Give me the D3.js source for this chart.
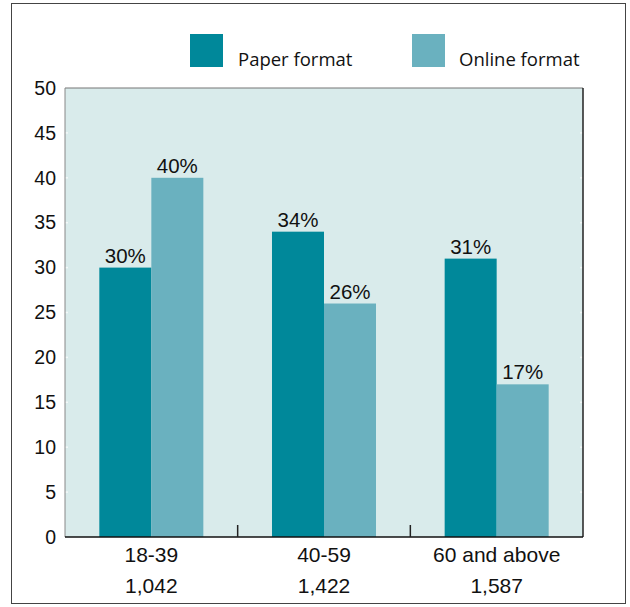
<!DOCTYPE html>
<html>
<head>
<meta charset="utf-8">
<script src="https://cdn.jsdelivr.net/npm/d3@7"></script>
<style>
  html, body { margin: 0; padding: 0; background: #fff; }
  svg { display: block; }
</style>
</head>
<body>
<svg id="chart" width="630" height="607"></svg>
<script>
// Age groups and respondent counts
const categories = ["18-39", "40-59", "60 and above"];
const counts = ["1,042", "1,422", "1,587"];
const series = ["Paper format", "Online format"];
// Share of respondents (%) preferring each format
const paperValues = [30, 34, 31];
const onlineValues = [40, 26, 17];
const yTicks = [0, 5, 10, 15, 20, 25, 30, 35, 40, 45, 50];

const colors = { "Paper format": "#00889a", "Online format": "#6ab1bf" };
const labelFont = "'Liberation Sans', Arial, sans-serif";

const svg = d3.select("#chart");
const plot = { left: 65, right: 583, top: 88, bottom: 537 };

// Outer frame
svg.append("rect")
  .attr("x", 11.5).attr("y", 3.5).attr("width", 614).attr("height", 600)
  .attr("fill", "#fff").attr("stroke", "#444").attr("stroke-width", 1);

const x0 = d3.scaleBand().domain(categories).range([plot.left, plot.right]).padding(0);
const x1 = d3.scaleBand().domain(series).range([0, x0.bandwidth()]).paddingInner(0).paddingOuter(0.66);
const y = d3.scaleLinear().domain([0, 50]).range([plot.bottom, plot.top]);

// Plot background
svg.append("rect")
  .attr("x", plot.left).attr("y", plot.top)
  .attr("width", plot.right - plot.left).attr("height", plot.bottom - plot.top)
  .attr("fill", "#d9ebeb");

// Light tick marks on both inner edges
const tickG = svg.append("g");
yTicks.filter(t => t > 0 && t < 50).forEach(t => {
  tickG.append("line").attr("x1", plot.left).attr("x2", plot.left + 3)
    .attr("y1", y(t)).attr("y2", y(t)).attr("stroke", "#f2f8f8").attr("stroke-width", 1.5);
  tickG.append("line").attr("x1", plot.right - 3).attr("x2", plot.right)
    .attr("y1", y(t)).attr("y2", y(t)).attr("stroke", "#f2f8f8").attr("stroke-width", 1.5);
});

// Bars
const rows = categories.map((c, i) => ({
  cat: c,
  vals: [
    { key: "Paper format", value: paperValues[i] },
    { key: "Online format", value: onlineValues[i] }
  ]
}));

const groups = svg.append("g").selectAll("g").data(rows).join("g")
  .attr("transform", d => `translate(${x0(d.cat)},0)`);

groups.selectAll("rect").data(d => d.vals).join("rect")
  .attr("x", d => x1(d.key))
  .attr("y", d => y(d.value))
  .attr("width", x1.bandwidth())
  .attr("height", d => y(0) - y(d.value))
  .attr("fill", d => colors[d.key]);

groups.selectAll("text").data(d => d.vals).join("text")
  .attr("x", d => x1(d.key) + x1.bandwidth() / 2)
  .attr("y", d => y(d.value) - 5)
  .attr("text-anchor", "middle")
  .attr("font-family", labelFont)
  .attr("font-size", 20.5)
  .attr("fill", "#111")
  .text(d => d.value + "%");

// Plot border: grey top/left, dark right/bottom
svg.append("line").attr("x1", plot.left).attr("x2", plot.right).attr("y1", plot.top).attr("y2", plot.top)
  .attr("stroke", "#777").attr("stroke-width", 1.2);
svg.append("line").attr("x1", plot.left).attr("x2", plot.left).attr("y1", plot.top).attr("y2", plot.bottom)
  .attr("stroke", "#888").attr("stroke-width", 1);
svg.append("line").attr("x1", plot.right).attr("x2", plot.right).attr("y1", plot.top).attr("y2", plot.bottom)
  .attr("stroke", "#222").attr("stroke-width", 1.5);
svg.append("line").attr("x1", plot.left).attr("x2", plot.right).attr("y1", plot.bottom).attr("y2", plot.bottom)
  .attr("stroke", "#111").attr("stroke-width", 1.5);

// Category separators
categories.slice(1).forEach(c => {
  svg.append("line").attr("x1", x0(c)).attr("x2", x0(c))
    .attr("y1", plot.bottom).attr("y2", plot.bottom - 12)
    .attr("stroke", "#222").attr("stroke-width", 1.5);
});

// Y axis labels
const yAxis = d3.axisLeft(y).tickValues(yTicks).tickSize(0).tickPadding(9);
const yg = svg.append("g").attr("transform", `translate(${plot.left},0)`).call(yAxis);
yg.select(".domain").remove();
yg.selectAll("text")
  .attr("font-family", labelFont)
  .attr("font-size", 19.5)
  .attr("fill", "#111");

// Category labels and counts
const xAxis = d3.axisBottom(x0).tickSize(0).tickPadding(0);
const xg = svg.append("g").attr("transform", `translate(0,${plot.bottom})`).call(xAxis);
xg.select(".domain").remove();
xg.selectAll("text")
  .attr("dy", null)
  .attr("y", 25)
  .attr("font-family", labelFont)
  .attr("font-size", 21)
  .attr("fill", "#111");

svg.append("g").selectAll("text").data(categories).join("text")
  .attr("x", c => x0(c) + x0.bandwidth() / 2)
  .attr("y", plot.bottom + 56)
  .attr("text-anchor", "middle")
  .attr("font-family", labelFont)
  .attr("font-size", 21)
  .attr("fill", "#111")
  .text((c, i) => counts[i]);

// Legend
const legendPos = [{ sx: 190, tx: 238 }, { sx: 412, tx: 459 }];
const lg = svg.append("g");
series.forEach((s, i) => {
  lg.append("rect").attr("x", legendPos[i].sx).attr("y", 34).attr("width", 33).attr("height", 33)
    .attr("fill", colors[s]);
  lg.append("text").attr("x", legendPos[i].tx).attr("y", 66)
    .attr("font-family", "'Open Sans', 'Noto Sans', sans-serif")
    .attr("font-size", 18.5)
    .attr("fill", "#111")
    .text(s);
});
</script>
</body>
</html>
